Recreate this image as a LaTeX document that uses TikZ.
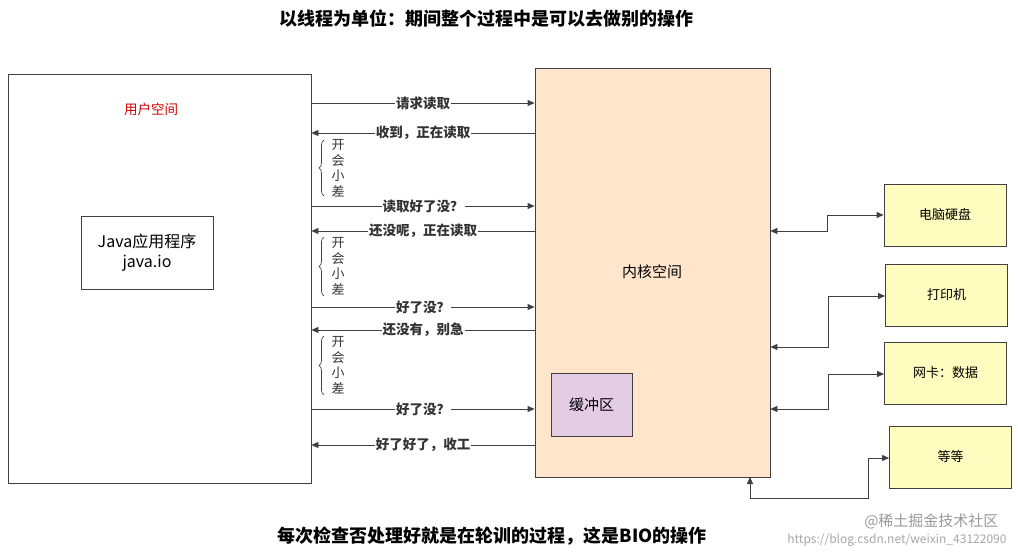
\documentclass[tikz,border=0pt]{standalone}
\usepackage{fontspec}
\setmainfont{Noto Sans CJK SC}
\usetikzlibrary{arrows.meta,decorations.pathreplacing}
\begin{document}
\begin{tikzpicture}[x=1pt,y=-1pt,
  box/.style={draw=black!75,line width=0.8pt,inner sep=0pt},
  msg/.style={draw=black!75,line width=0.8pt,-{Triangle[length=7pt,width=6pt]}},
  lbl/.style={fill=white,inner sep=1pt,font=\fontsize{13.5}{15}\selectfont\bfseries,text=black!80},
  dev/.style={box,fill=yellow!25,minimum width=122pt,minimum height=62pt,font=\fontsize{13}{15}\selectfont},
  brc/.style={draw=black!75,line width=0.7pt,decorate,decoration={brace,amplitude=5pt,mirror}},
  vt/.style={font=\fontsize{13}{15.5}\selectfont,align=center,text=black!80}]
\useasboundingbox (0,0) rectangle (1018,556);
\node[font=\fontsize{18}{20}\selectfont\bfseries] (title) at (486,19) {以线程为单位：期间整个过程中是可以去做别的操作};
\node[font=\fontsize{18}{20}\selectfont\bfseries] (foot) at (492,536) {每次检查否处理好就是在轮训的过程，这是BIO的操作};
\node[text=black!35,font=\fontsize{12}{14}\selectfont,anchor=east] (wm) at (1010,540) {https://blog.csdn.net/weixin\_43122090};
\node[text=black!40,font=\fontsize{15}{17}\selectfont,anchor=east] (wm2) at (1002,521) {@稀土掘金技术社区};
\node[box,minimum width=303pt,minimum height=409pt] (user) at (159.5,278.5) {};
\node[text=red!80!black,font=\fontsize{13.5}{15}\selectfont] (ulab) at (151,109) {用户空间};
\node[box,minimum width=132pt,minimum height=73pt,align=center,font=\fontsize{16}{20}\selectfont] (java) at (147,252.5) {Java应用程序\\java.io};
\node[box,fill=orange!20,minimum width=235pt,minimum height=409pt] (kern) at (652.5,272.5) {};
\node[font=\fontsize{15}{17}\selectfont] (klab) at (652,272) {内核空间};
\node[box,fill=violet!20,minimum width=81pt,minimum height=63pt,font=\fontsize{15}{17}\selectfont] (buf) at (591.5,404.5) {缓冲区};
\node[dev] (d1) at (945,215) {电脑硬盘};
\node[dev] (d2) at (946.5,295) {打印机};
\node[dev] (d3) at (945.5,373) {网卡：数据};
\node[dev] (d4) at (950.5,457) {等等};
% messages
\foreach \y/\t in {103/请求读取,206/读取好了没？,307/好了没？,409/好了没？}
  \draw[msg] (user.east|-0,\y) -- node[lbl]{\t} (kern.west|-0,\y);
\foreach \y/\t in {133/收到，正在读取,231/还没呢，正在读取,330/还没有，别急,445/好了好了，收工}
  \draw[msg] (kern.west|-0,\y) -- node[lbl]{\t} (user.east|-0,\y);
\foreach \a/\b/\c in {140/196/168,237/296/266,336/395/365}{
  \draw[brc] (324,\a) -- (324,\b);
  \node[vt] at (338,\c) {开\\会\\小\\差};
}
% devices
\draw[msg,{Triangle[length=7pt,width=6pt]}-{Triangle[length=7pt,width=6pt]}] (kern.east|-0,231) -- (827,231) -- (827,215) -- (d1.west);
\draw[msg,{Triangle[length=7pt,width=6pt]}-{Triangle[length=7pt,width=6pt]}] (kern.east|-0,347) -- (828,347) -- (828,296) -- (d2.west|-0,296);
\draw[msg,{Triangle[length=7pt,width=6pt]}-{Triangle[length=7pt,width=6pt]}] (kern.east|-0,409) -- (828,409) -- (828,374) -- (d3.west|-0,374);
\draw[msg,{Triangle[length=7pt,width=6pt]}-{Triangle[length=7pt,width=6pt]}] (750,477) -- (750,498) -- (868,498) -- (868,458) -- (d4.west|-0,458);
\end{tikzpicture}
\end{document}
